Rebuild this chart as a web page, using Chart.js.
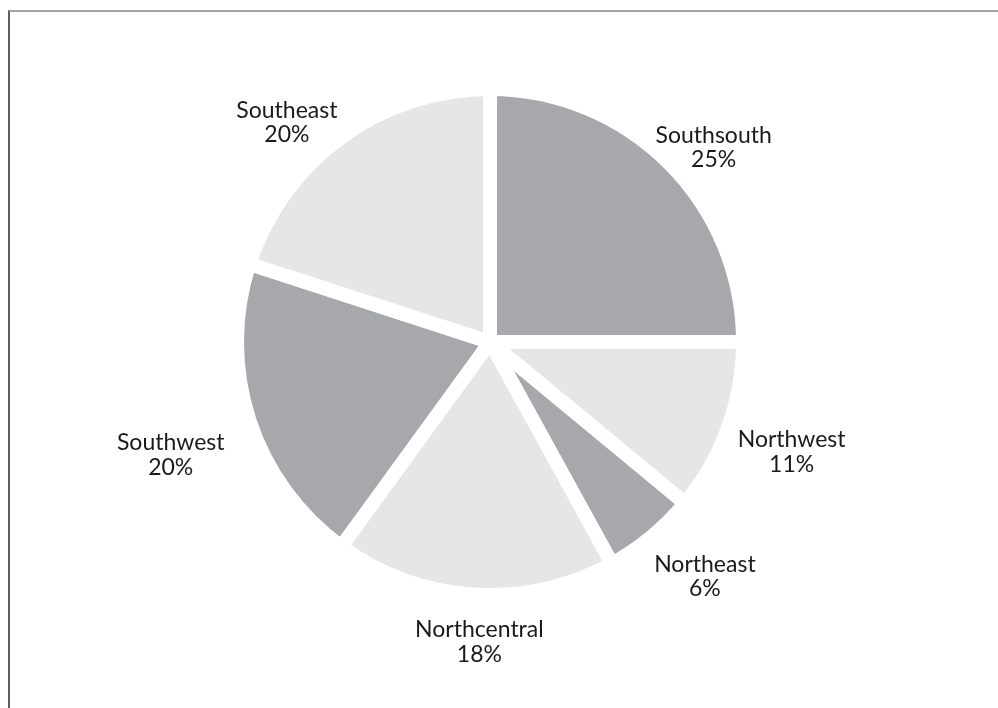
<!DOCTYPE html>
<html lang="en">
<head>
    <meta charset="UTF-8">
    <title>Regional share</title>
    <script src="https://cdn.jsdelivr.net/npm/chart.js"></script>
    <style>
        body { margin: 0; background: #fff; }
        #frame {
            position: absolute; left: 8px; top: 10px;
            width: 990px; height: 698px;
            border-top: 2px solid #a4a4a4;
            border-left: 2px solid #5e5e5e;
            box-sizing: border-box;
        }
    </style>
</head>
<body>
    <div id="frame">
        <canvas id="chart_pie"></canvas>
    </div>

    <script>
        // datos
        var regions = ['Southsouth', 'Northwest', 'Northeast', 'Northcentral', 'Southwest', 'Southeast'];
        var shares = [25, 11, 6, 18, 20, 20];
        var dark = '#a7a8ab';
        var light = '#e6e6e7';
        var sliceColors = [dark, light, dark, light, dark, light];

        // etiquetas fuera del pastel (con pequeños ajustes a mano)
        var outsideLabels = {
            id: 'outsideLabels',
            afterDraw: function (chart, args, opts) {
                var ctx = chart.ctx;
                var arcs = chart.getDatasetMeta(0).data;
                ctx.save();
                ctx.font = '23px Lato';
                ctx.fillStyle = '#1a1a1a';
                ctx.textAlign = 'center';
                ctx.textBaseline = 'alphabetic';
                arcs.forEach(function (arc, i) {
                    var p = arc.getProps(['x', 'y', 'startAngle', 'endAngle', 'outerRadius'], true);
                    var a = (p.startAngle + p.endAngle) / 2;
                    var ux = Math.cos(a), uy = Math.sin(a);
                    var l1 = regions[i], l2 = shares[i] + '%';
                    var w = Math.max(ctx.measureText(l1).width, ctx.measureText(l2).width);
                    var h = 41;
                    var pad = Math.min(Math.abs(ux) > 1e-6 ? (w / 2) / Math.abs(ux) : 1e9,
                                       Math.abs(uy) > 1e-6 ? (h / 2) / Math.abs(uy) : 1e9);
                    var d = p.outerRadius + opts.gap + pad;
                    var n = opts.nudge[i] || [0, 0];
                    var cx = p.x + d * ux + n[0], cy = p.y + d * uy + n[1];
                    ctx.fillText(l1, cx, cy - 3.5);
                    ctx.fillText(l2, cx, cy + 21);
                });
                ctx.restore();
            }
        };

        var ctx_pie = document.getElementById('chart_pie').getContext('2d');
        var chart_pie = new Chart(ctx_pie, {
            type: 'pie',
            data: {
                labels: regions,
                datasets: [{
                    data: shares,
                    backgroundColor: sliceColors,
                    borderColor: '#ffffff',
                    borderWidth: 14
                }]
            },
            options: {
                responsive: true,
                maintainAspectRatio: false,
                animation: false,
                layout: {
                    padding: { top: 70, bottom: 106, left: 220, right: 248 }
                },
                plugins: {
                    legend: { display: false },
                    tooltip: { enabled: false },
                    outsideLabels: {
                        gap: 23,
                        nudge: [[8, 20], [-12, -4], [22, 0], [8, 3], [-3, 9], [-26, 23]]
                    }
                }
            },
            plugins: [outsideLabels]
        });
    </script>
</body>
</html>
